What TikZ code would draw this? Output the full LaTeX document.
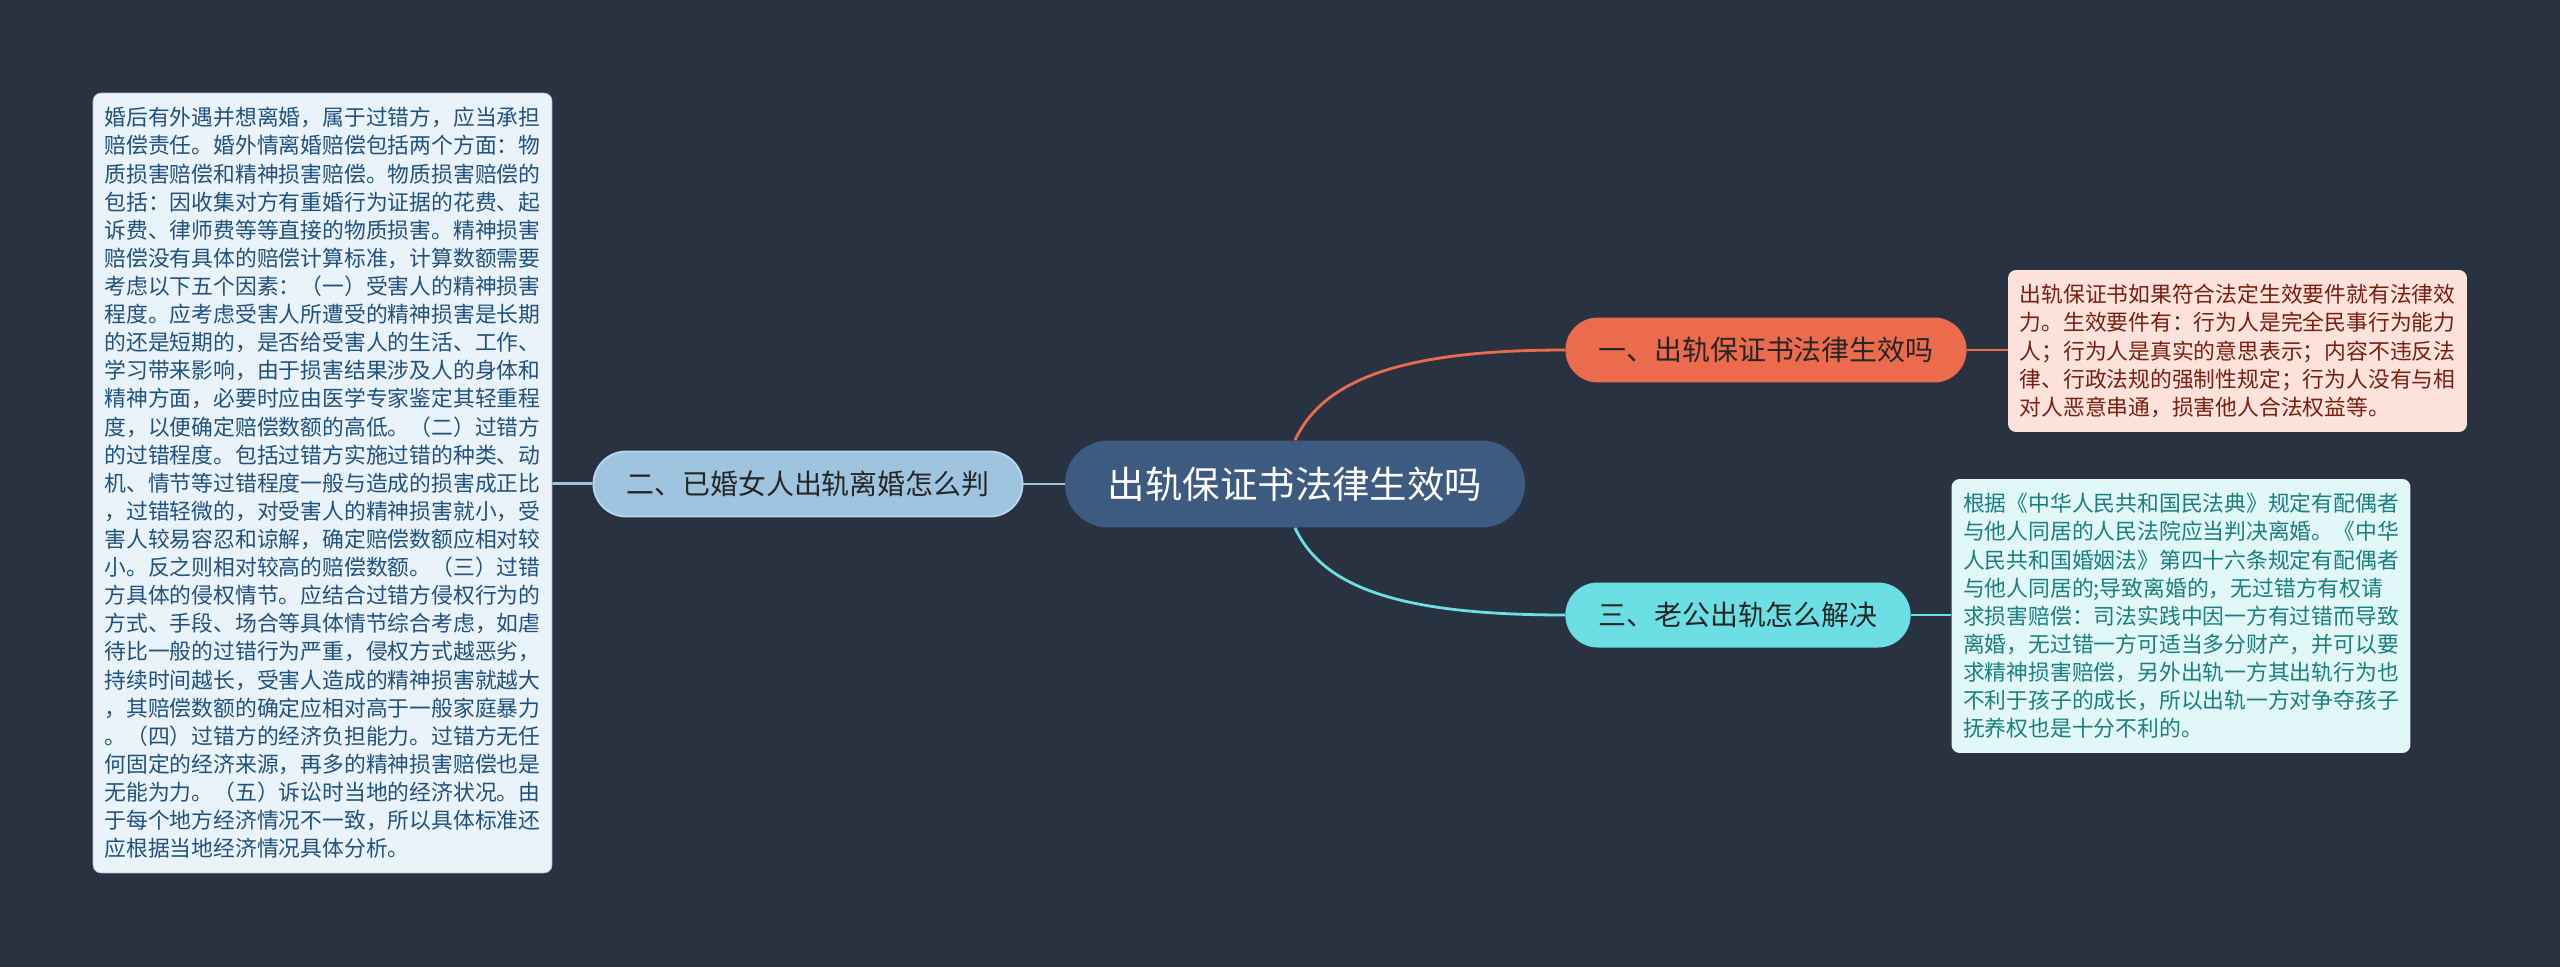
\documentclass[tikz,border=0pt]{standalone}
\usepackage{fontspec}
\setmainfont{Noto Sans CJK SC}
\usepackage{tikz}
\usetikzlibrary{shapes,positioning,calc}

\definecolor{bgdark}{HTML}{293241}
\definecolor{rootblue}{HTML}{3D5A80}
\definecolor{orangeb}{HTML}{EC6B4D}
\definecolor{cyanb}{HTML}{6CDFE4}
\definecolor{paleblue}{HTML}{9EC4DF}
\definecolor{paleedge}{HTML}{B9D9F0}
\definecolor{notebluefill}{HTML}{EBF3FA}
\definecolor{notebluetext}{HTML}{1F5280}
\definecolor{noteredfill}{HTML}{FDE3DC}
\definecolor{noteredtext}{HTML}{7A1E0E}
\definecolor{notecyanfill}{HTML}{E1F7F8}
\definecolor{notecyantext}{HTML}{1A7F80}

\begin{document}
\begin{tikzpicture}[
    x=0.02cm, y=-0.02cm,
    root/.style={rectangle, fill=rootblue, text=white, font=\fontsize{21.3}{26}\selectfont, minimum height=1.74cm, inner xsep=0.86cm, inner ysep=0pt, rounded corners=0.87cm},
    topic/.style={rectangle, text=black!85, font=\fontsize{15.9}{19}\selectfont, minimum height=1.3cm, inner xsep=0.66cm, inner ysep=0pt, rounded corners=0.65cm},
    note/.style={rectangle, align=left, font=\fontsize{12.4}{16}\selectfont, minimum width=9.18cm, inner sep=0pt, rounded corners=0.16cm},
    link/.style={-, line width=1.6pt}
]
\useasboundingbox[fill=bgdark] (0,0) rectangle (2560,967);

% Root
\node[root] (root) at (1295,484) {出轨保证书法律生效吗};

% Topics
\node[topic, fill=orangeb] (effect) at (1766,350) {一、出轨保证书法律生效吗};
\node[topic, fill=paleblue, draw=paleedge, line width=1pt] (divorce) at (808,484) {二、已婚女人出轨离婚怎么判};
\node[topic, fill=cyanb] (solve) at (1738,615) {三、老公出轨怎么解决};

% Notes
\node[note, fill=notebluefill, draw=notebluefill!80!black, line width=0.4pt, text=notebluetext, minimum height=15.6cm] (divnote) at (322.5,483) {婚后有外遇并想离婚，属于过错方，应当承担\\赔偿责任。婚外情离婚赔偿包括两个方面：物\\质损害赔偿和精神损害赔偿。物质损害赔偿的\\包括：因收集对方有重婚行为证据的花费、起\\诉费、律师费等等直接的物质损害。精神损害\\赔偿没有具体的赔偿计算标准，计算数额需要\\考虑以下五个因素：（一）受害人的精神损害\\程度。应考虑受害人所遭受的精神损害是长期\\的还是短期的，是否给受害人的生活、工作、\\学习带来影响，由于损害结果涉及人的身体和\\精神方面，必要时应由医学专家鉴定其轻重程\\度，以便确定赔偿数额的高低。（二）过错方\\的过错程度。包括过错方实施过错的种类、动\\机、情节等过错程度一般与造成的损害成正比\\，过错轻微的，对受害人的精神损害就小，受\\害人较易容忍和谅解，确定赔偿数额应相对较\\小。反之则相对较高的赔偿数额。（三）过错\\方具体的侵权情节。应结合过错方侵权行为的\\方式、手段、场合等具体情节综合考虑，如虐\\待比一般的过错行为严重，侵权方式越恶劣，\\持续时间越长，受害人造成的精神损害就越大\\，其赔偿数额的确定应相对高于一般家庭暴力\\。（四）过错方的经济负担能力。过错方无任\\何固定的经济来源，再多的精神损害赔偿也是\\无能为力。（五）诉讼时当地的经济状况。由\\于每个地方经济情况不一致，所以具体标准还\\应根据当地经济情况具体分析。};
\node[note, fill=noteredfill, text=noteredtext, minimum height=3.24cm] (effnote) at (2237.5,351) {出轨保证书如果符合法定生效要件就有法律效\\力。生效要件有：行为人是完全民事行为能力\\人；行为人是真实的意思表示；内容不违反法\\律、行政法规的强制性规定；行为人没有与相\\对人恶意串通，损害他人合法权益等。};
\node[note, fill=notecyanfill, text=notecyantext, minimum height=5.48cm] (solnote) at (2181,616) {根据《中华人民共和国民法典》规定有配偶者\\与他人同居的人民法院应当判决离婚。《中华\\人民共和国婚姻法》第四十六条规定有配偶者\\与他人同居的;导致离婚的，无过错方有权请\\求损害赔偿：司法实践中因一方有过错而导致\\离婚，无过错一方可适当多分财产，并可以要\\求精神损害赔偿，另外出轨一方其出轨行为也\\不利于孩子的成长，所以出轨一方对争夺孩子\\抚养权也是十分不利的。};

% Connections
\draw[link, paleblue] (root) -- (divorce);
\draw[link, paleblue] (divorce) -- (divnote);
\draw[link, orangeb] (root.north) .. controls +(28,-60) and +(-165,0) .. (effect.west);
\draw[link, orangeb] (effect.east) -- (effect.east -| effnote.west);
\draw[link, cyanb] (root.south) .. controls +(28,60) and +(-165,0) .. (solve.west);
\draw[link, cyanb] (solve.east) -- (solve.east -| solnote.west);

\end{tikzpicture}
\end{document}
